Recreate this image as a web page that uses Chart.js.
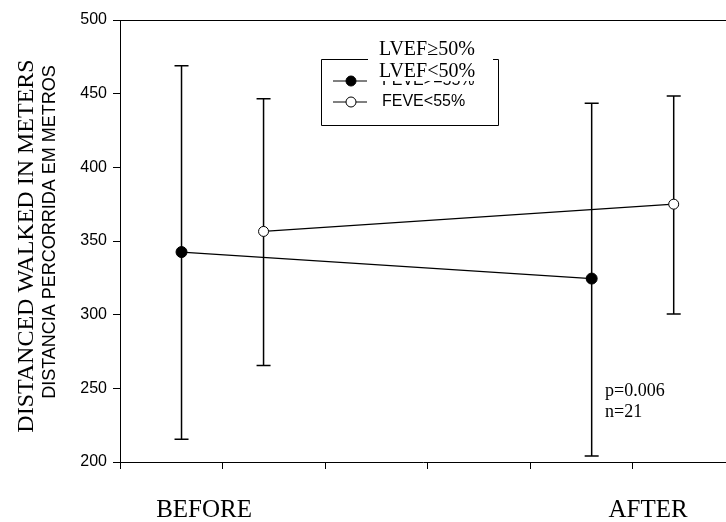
<!DOCTYPE html>
<html lang="pt">
<head>
    <meta charset="UTF-8">
    <title>Distância percorrida</title>
    <script src="https://cdn.jsdelivr.net/npm/chart.js"></script>
    <style>
        html, body { margin: 0; padding: 0; background: #fff; overflow: hidden; }
        #chart { display: block; width: 726px; height: 522px; }
    </style>
</head>
<body>
    <canvas id="chart" width="726" height="522"></canvas>

    <script>
        // grupos e séries
        const groups = ['BEFORE', 'AFTER'];
        const seriesNames = ['FEVE>=55%', 'FEVE<55%'];

        // FEVE>=55% (círculo cheio)
        const meanHigh = [342.5, 324.5];
        const upperHigh = [469, 443.5];
        const lowerHigh = [215.5, 204];

        // FEVE<55% (círculo vazio)
        const meanLow = [356.5, 375];
        const upperLow = [446.5, 448.5];
        const lowerLow = [265.5, 300.5];

        const yTicks = [200, 250, 300, 350, 400, 450, 500];

        const serif = "'Liberation Serif', 'Times New Roman', serif";
        const sans = "'Liberation Sans', Arial, sans-serif";

        // posição de cada grupo no eixo x e deslocamento de cada série
        const groupX = i => 1 + i * 4;
        const seriesOffset = [-0.4, 0.4];

        function makePoints(means, uppers, lowers, s) {
            return means.map((m, i) => ({ x: groupX(i) + seriesOffset[s], y: m, hi: uppers[i], lo: lowers[i] }));
        }

        // barras de erro verticais com traço nas pontas
        const errorBars = {
            id: 'errorBars',
            beforeDatasetsDraw(chart) {
                const ctx = chart.ctx;
                const xs = chart.scales.x, ys = chart.scales.y;
                ctx.save();
                ctx.strokeStyle = '#000';
                ctx.lineWidth = 1.5;
                chart.data.datasets.forEach(ds => {
                    ds.data.forEach(p => {
                        const x = xs.getPixelForValue(p.x);
                        const yt = ys.getPixelForValue(p.hi);
                        const yb = ys.getPixelForValue(p.lo);
                        ctx.beginPath();
                        ctx.moveTo(x, yt); ctx.lineTo(x, yb);
                        ctx.moveTo(x - 7, yt); ctx.lineTo(x + 7, yt);
                        ctx.moveTo(x - 7, yb); ctx.lineTo(x + 7, yb);
                        ctx.stroke();
                    });
                });
                ctx.restore();
            }
        };

        // textos, legenda e moldura
        const decorations = {
            id: 'decorations',
            afterDraw(chart) {
                const ctx = chart.ctx;
                const area = chart.chartArea;
                const xs = chart.scales.x;
                ctx.save();

                // linha superior
                ctx.strokeStyle = '#000';
                ctx.lineWidth = 1;
                ctx.beginPath();
                ctx.moveTo(area.left, area.top + 0.5);
                ctx.lineTo(area.right, area.top + 0.5);
                ctx.stroke();

                // títulos do eixo y
                ctx.fillStyle = '#000';
                ctx.textAlign = 'center';
                ctx.textBaseline = 'middle';
                ctx.save();
                ctx.translate(27, 246);
                ctx.rotate(-Math.PI / 2);
                ctx.font = '24px ' + serif;
                ctx.fillText('DISTANCED WALKED IN METERS', 0, 0);
                ctx.restore();
                ctx.save();
                ctx.translate(50, 232);
                ctx.rotate(-Math.PI / 2);
                ctx.font = '18px ' + sans;
                ctx.fillText('DISTANCIA PERCORRIDA EM METROS', 0, 0);
                ctx.restore();

                // rótulos dos grupos
                const labelX = [0.82, 5.15];
                ctx.font = '25px ' + serif;
                groups.forEach((g, i) => {
                    ctx.fillText(g, xs.getPixelForValue(labelX[i]), 510);
                });

                // p e n
                ctx.textAlign = 'left';
                ctx.font = '18px ' + serif;
                ctx.fillText('p=0.006', 605, 391);
                ctx.fillText('n=21', 605, 412);

                // legenda
                ctx.lineWidth = 1;
                ctx.beginPath();
                ctx.moveTo(321.5, 59.5); ctx.lineTo(321.5, 125.5);
                ctx.lineTo(498.5, 125.5); ctx.lineTo(498.5, 59.5);
                ctx.stroke();
                ctx.beginPath();
                ctx.moveTo(321.5, 59.5); ctx.lineTo(498.5, 59.5);
                ctx.stroke();

                const rows = [81, 102];
                chart.data.datasets.forEach((ds, i) => {
                    const y = rows[i];
                    ctx.beginPath();
                    ctx.moveTo(333, y); ctx.lineTo(367, y);
                    ctx.stroke();
                    ctx.beginPath();
                    ctx.arc(351, y, 5, 0, Math.PI * 2);
                    ctx.fillStyle = ds.pointBackgroundColor;
                    ctx.fill();
                    ctx.stroke();
                    ctx.fillStyle = '#000';
                    ctx.font = '16px ' + sans;
                    ctx.fillText(ds.label, 382, y);
                });

                // rótulos sobrepostos
                ctx.fillStyle = '#fff';
                ctx.fillRect(368, 40, 125, 20);
                ctx.fillRect(376, 62, 110, 19);
                ctx.fillStyle = '#000';
                ctx.font = '20px ' + serif;
                ctx.fillText('LVEF\u226550%', 379, 50);
                ctx.fillText('LVEF<50%', 379, 72);

                ctx.restore();
            }
        };

        new Chart(document.getElementById('chart'), {
            type: 'scatter',
            data: {
                datasets: [
                    {
                        label: seriesNames[0],
                        data: makePoints(meanHigh, upperHigh, lowerHigh, 0),
                        showLine: true,
                        borderColor: '#000',
                        borderWidth: 1.2,
                        pointRadius: 5.5,
                        pointBackgroundColor: '#000',
                        pointBorderColor: '#000',
                        pointBorderWidth: 1
                    },
                    {
                        label: seriesNames[1],
                        data: makePoints(meanLow, upperLow, lowerLow, 1),
                        showLine: true,
                        borderColor: '#000',
                        borderWidth: 1.2,
                        pointRadius: 5,
                        pointBackgroundColor: '#fff',
                        pointBorderColor: '#000',
                        pointBorderWidth: 1
                    }
                ]
            },
            options: {
                responsive: false,
                animation: false,
                layout: { autoPadding: false, padding: { top: 20, right: 0, left: 0, bottom: 0 } },
                plugins: {
                    legend: { display: false },
                    tooltip: { enabled: false }
                },
                scales: {
                    x: {
                        type: 'linear',
                        min: 0,
                        max: 5.91,
                        ticks: { stepSize: 1, callback: () => '' },
                        afterBuildTicks: s => { s.ticks = s.ticks.filter(t => Number.isInteger(t.value)); },
                        afterFit: s => { s.height = 60; },
                        grid: { drawOnChartArea: false, tickLength: 7, color: '#000', lineWidth: 1 },
                        border: { color: '#000', width: 1 }
                    },
                    y: {
                        min: yTicks[0],
                        max: yTicks[yTicks.length - 1],
                        ticks: {
                            stepSize: 50,
                            color: '#000',
                            padding: 6,
                            font: { family: sans, size: 16 }
                        },
                        afterBuildTicks: s => { s.ticks = yTicks.map(v => ({ value: v })); },
                        afterFit: s => { s.width = 120; },
                        grid: { drawOnChartArea: false, tickLength: 7, color: '#000', lineWidth: 1 },
                        border: { color: '#000', width: 1 }
                    }
                }
            },
            plugins: [errorBars, decorations]
        });
    </script>
</body>
</html>
